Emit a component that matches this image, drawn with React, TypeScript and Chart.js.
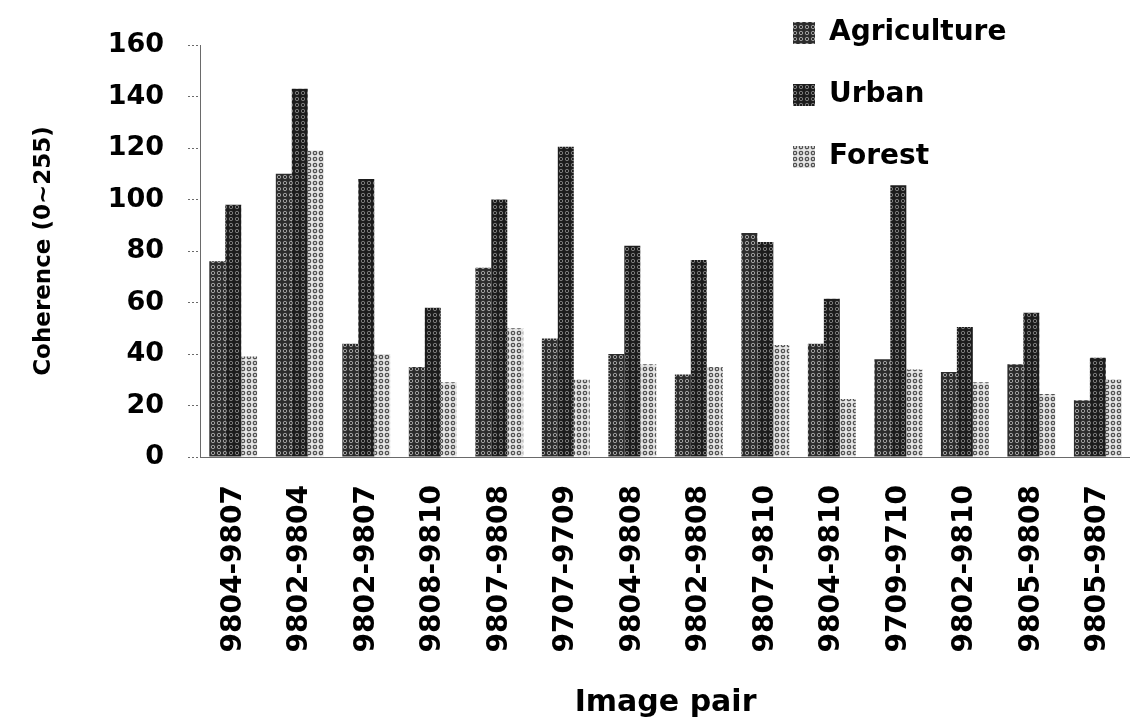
import React, { useEffect, useRef } from "react";
import { Chart, registerables } from "chart.js";

Chart.register(...registerables);

const CATEGORIES = [
  "9804-9807", "9802-9804", "9802-9807", "9808-9810", "9807-9808", "9707-9709", "9804-9808",
  "9802-9808", "9807-9810", "9804-9810", "9709-9710", "9802-9810", "9805-9808", "9805-9807",
];
const AGRICULTURE = [76, 110, 44, 35, 73.5, 46, 40, 32, 87, 44, 38, 33, 36, 22];
const URBAN = [98, 143, 108, 58, 100, 120.5, 82, 76.5, 83.5, 61.5, 105.5, 50.5, 56, 38.5];
const FOREST = [39, 119, 40, 29, 50, 30, 36, 35, 43.5, 22.5, 34, 29, 24.5, 30];
const SERIES_NAMES = ["Agriculture", "Urban", "Forest"];
const Y_TICKS = [0, 20, 40, 60, 80, 100, 120, 140, 160];
const X_TITLE = "Image pair";
const Y_TITLE = "Coherence (0~255)";

const FONT = "'DejaVu Sans', Verdana, sans-serif";

function makePattern(bg: string, ring: string, lw: number): CanvasPattern | string {
  const c = document.createElement("canvas");
  c.width = 6;
  c.height = 6;
  const ctx = c.getContext("2d");
  if (!ctx) return bg;
  ctx.fillStyle = bg;
  ctx.fillRect(0, 0, 6, 6);
  ctx.strokeStyle = ring;
  ctx.lineWidth = lw;
  ctx.beginPath();
  ctx.arc(3, 3, 1.7, 0, Math.PI * 2);
  ctx.stroke();
  return ctx.createPattern(c, "repeat") || bg;
}

const legendMover = {
  id: "legendMover",
  afterLayout(chart: any) {
    const lg = chart.legend;
    if (!lg) return;
    lg.left = 759;
    lg.top = -15;
    lg.right = lg.left + 400;
    lg.bottom = lg.top + 400;
    if (typeof lg.adjustHitBoxes === "function") lg.adjustHitBoxes();
  },
};

export default function App() {
  const ref = useRef<HTMLCanvasElement | null>(null);

  useEffect(() => {
    if (!ref.current) return;
    const agriFill = makePattern("#2c2c2c", "#a0a0a0", 1);
    const urbanFill = makePattern("#1c1c1c", "#7c7c7c", 1);
    const forestFill = makePattern("#e4e4e4", "#505050", 1.2);
    const fills = [agriFill, urbanFill, forestFill];
    const values = [AGRICULTURE, URBAN, FOREST];

    const chart = new Chart(ref.current, {
      type: "bar",
      data: {
        labels: CATEGORIES,
        datasets: SERIES_NAMES.map((name, i) => ({
          label: name,
          data: values[i],
          backgroundColor: fills[i] as any,
          borderWidth: 0,
          categoryPercentage: 0.72,
          barPercentage: 1.0,
        })),
      },
      options: {
        animation: false,
        responsive: false,
        maintainAspectRatio: false,
        layout: { padding: { top: 45, right: 15, bottom: 0, left: 0 } },
        plugins: {
          tooltip: { enabled: false },
          legend: {
            display: true,
            position: "chartArea" as any,
            align: "start",
            labels: {
              boxWidth: 22,
              boxHeight: 22,
              padding: 34,
              color: "#000",
              font: { family: FONT, size: 28, weight: "bold" },
            },
          },
        },
        scales: {
          x: {
            grid: { display: false, drawTicks: false },
            border: { display: true, color: "#6a6a6a", width: 1, dash: [2, 2] },
            ticks: {
              autoSkip: false,
              maxRotation: 90,
              minRotation: 90,
              padding: 28,
              color: "#000",
              font: { family: FONT, size: 28, weight: "bold" },
            },
            title: {
              display: true,
              text: X_TITLE,
              color: "#000",
              font: { family: FONT, size: 30, weight: "bold" },
              padding: { top: 0, bottom: 0 },
            },
            afterFit: (s: any) => {
              s.height = 264;
            },
          },
          y: {
            min: 0,
            max: 160,
            afterBuildTicks: (s: any) => {
              s.ticks = Y_TICKS.map((v) => ({ value: v }));
            },
            grid: {
              display: true,
              drawOnChartArea: false,
              drawTicks: true,
              tickLength: 12,
              color: "#6a6a6a",
              tickBorderDash: [2, 2],
            },
            border: { display: true, color: "#6a6a6a", width: 1, dash: [2, 2] },
            ticks: {
              padding: 24,
              color: "#000",
              font: { family: FONT, size: 27, weight: "bold" },
            },
            title: {
              display: true,
              text: Y_TITLE,
              color: "#000",
              font: { family: FONT, size: 23, weight: "bold" },
              padding: { top: 30, bottom: 0 },
            },
            afterFit: (s: any) => {
              s.width = 200;
            },
          },
        },
      },
      plugins: [legendMover],
    });
    return () => chart.destroy();
  }, []);

  return (
    <div
      style={{
        position: "absolute",
        left: 0,
        top: 0,
        width: 1130,
        height: 721,
        overflow: "hidden",
        background: "#fff",
      }}
    >
      <canvas ref={ref} width={1160} height={721} style={{ display: "block" }} />
    </div>
  );
}
